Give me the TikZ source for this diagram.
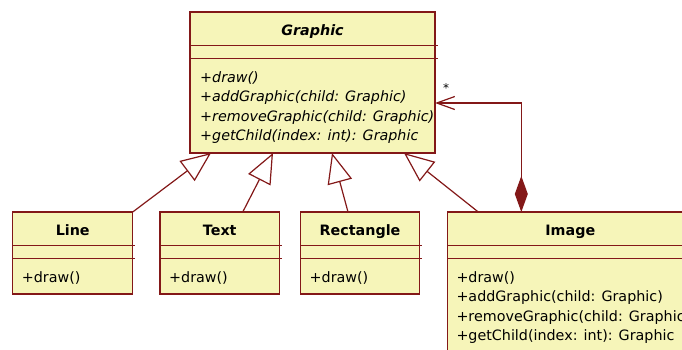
\documentclass[tikz,border=0pt]{standalone}
\usepackage{fontspec}
\setmainfont{DejaVu Sans}
\usetikzlibrary{arrows.meta}
\definecolor{umlred}{RGB}{131,24,24}
\definecolor{umlfill}{RGB}{246,245,185}
\begin{document}
\begin{tikzpicture}[x=1pt,y=-1pt,
  cls/.style={draw=umlred, fill=umlfill, line width=1.2pt, rectangle, anchor=north west, inner sep=0pt, outer sep=0pt},
  ttl/.style={anchor=base, inner sep=0pt, font=\bfseries\fontsize{14.3}{19.5}\selectfont},
  mth/.style={anchor=base west, inner sep=0pt, font=\fontsize{14.3}{19.5}\selectfont},
  div/.style={draw=umlred, line width=1.2pt},
  gen/.style={draw=umlred, line width=1.2pt, -{Triangle[open,length=30pt,width=25pt]}},
  comp/.style={draw=umlred, line width=1.2pt, {Diamond[length=36pt,width=13pt,fill=umlred]}-{Straight Barb[length=18pt,width=13pt]}},
  mult/.style={inner sep=0pt, font=\fontsize{12}{14}\selectfont}
]
\useasboundingbox (0,0) rectangle (682,349);
\clip (0,0) rectangle (682,349);

% Graphic
\node[cls, minimum width=245pt, minimum height=141pt] (gr) at (190,12) {};
\node[ttl] (grt) at ([yshift=-23pt]gr.north) {\itshape Graphic};
\draw[div] ([yshift=-33.5pt]gr.north west) -- ++(247.5,0);
\draw[div] ([yshift=-46.5pt]gr.north west) -- ++(247.5,0);
\node[mth, font=\itshape\fontsize{14.3}{19.5}\selectfont] (gr1) at ([xshift=10pt,yshift=-70pt]gr.north west) {+draw()};
\node[mth, font=\itshape\fontsize{14.3}{19.5}\selectfont] (gr2) at ([xshift=10pt,yshift=-89.5pt]gr.north west) {+addGraphic(child: Graphic)};
\node[mth, font=\itshape\fontsize{14.3}{19.5}\selectfont] (gr3) at ([xshift=10pt,yshift=-109pt]gr.north west) {+removeGraphic(child: Graphic)};
\node[mth, font=\itshape\fontsize{14.3}{19.5}\selectfont] (gr4) at ([xshift=10pt,yshift=-128.5pt]gr.north west) {+getChild(index: int): Graphic};

% Line
\node[cls, minimum width=120pt, minimum height=82pt] (ln) at (12.7,212) {};
\node[ttl] (lnt) at ([yshift=-23pt]ln.north) {Line};
\draw[div] ([yshift=-33.5pt]ln.north west) -- ++(122.5,0);
\draw[div] ([yshift=-46.5pt]ln.north west) -- ++(122.5,0);
\node[mth] (ln1) at ([xshift=9pt,yshift=-70pt]ln.north west) {+draw()};

% Text
\node[cls, minimum width=119.5pt, minimum height=82pt] (tx) at (160,212) {};
\node[ttl] (txt) at ([yshift=-23pt]tx.north) {Text};
\draw[div] ([yshift=-33.5pt]tx.north west) -- ++(122,0);
\draw[div] ([yshift=-46.5pt]tx.north west) -- ++(122,0);
\node[mth] (tx1) at ([xshift=9pt,yshift=-70pt]tx.north west) {+draw()};

% Rectangle
\node[cls, minimum width=119pt, minimum height=82pt] (rc) at (300.5,212) {};
\node[ttl] (rct) at ([yshift=-23pt]rc.north) {Rectangle};
\draw[div] ([yshift=-33.5pt]rc.north west) -- ++(121.5,0);
\draw[div] ([yshift=-46.5pt]rc.north west) -- ++(121.5,0);
\node[mth] (rc1) at ([xshift=9pt,yshift=-70pt]rc.north west) {+draw()};

% Image
\node[cls, minimum width=246pt, minimum height=160pt] (im) at (447.3,212) {};
\node[ttl] (imt) at ([yshift=-23pt]im.north) {Image};
\draw[div] ([yshift=-33.5pt]im.north west) -- ++(248.5,0);
\draw[div] ([yshift=-46.5pt]im.north west) -- ++(248.5,0);
\node[mth] (im1) at ([xshift=9pt,yshift=-70pt]im.north west) {+draw()};
\node[mth] (im2) at ([xshift=9pt,yshift=-89.5pt]im.north west) {+addGraphic(child: Graphic)};
\node[mth] (im3) at ([xshift=9pt,yshift=-109pt]im.north west) {+removeGraphic(child: Graphic)};
\node[mth] (im4) at ([xshift=9pt,yshift=-128.5pt]im.north west) {+getChild(index: int): Graphic};

% generalizations
\draw[gen] (ln.north east) -- ([xshift=-101.5pt]gr.south);
\draw[gen] ([xshift=23pt]tx.north) -- ([xshift=-39.5pt]gr.south);
\draw[gen] ([xshift=-12pt]rc.north) -- ([xshift=19.5pt]gr.south);
\draw[gen] ([xshift=-92pt]im.north) -- ([xshift=91.5pt]gr.south);

% composition
\draw[comp] ([xshift=-49pt]im.north) |- ([yshift=-20.5pt]gr.east);
\node[mult] (star) at (446,88) {*};
\end{tikzpicture}
\end{document}
